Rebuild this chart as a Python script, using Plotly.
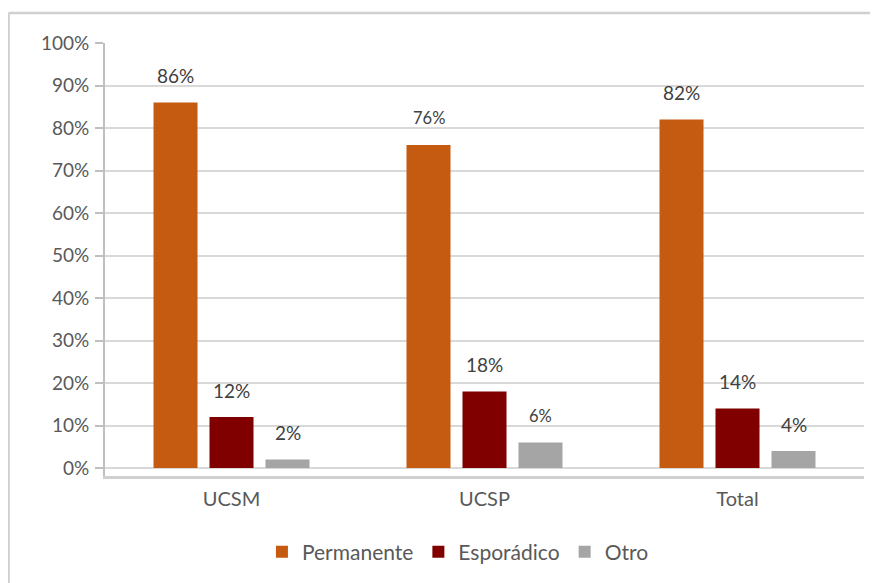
import plotly.graph_objects as go

categories = ["UCSM", "UCSP", "Total"]
series_names = ["Permanente", "Esporádico", "Otro"]
permanente = [0.86, 0.76, 0.82]
esporadico = [0.12, 0.18, 0.14]
otro = [0.02, 0.06, 0.04]
tick_vals = [0, 0.1, 0.2, 0.3, 0.4, 0.5, 0.6, 0.7, 0.8, 0.9, 1.0]
tick_text = ["0%", "10%", "20%", "30%", "40%", "50%", "60%", "70%", "80%", "90%", "100%"]

colors = ["#C55A11", "#800000", "#A5A5A5"]
all_series = [permanente, esporadico, otro]
# label font size per series/category (reference uses slightly smaller text on two labels)
label_sizes = [[19, 16.5, 19], [19, 19, 19], [19, 16.5, 19]]
xshifts = [-56, 0, 56]

FONT = "Lato, Open Sans, sans-serif"
TXT = "#595959"

fig = go.Figure()
for name, vals, col in zip(series_names, all_series, colors):
    fig.add_trace(go.Bar(x=categories, y=vals, name=name, marker_color=col,
                         marker_line_width=0))

annotations = []
for si, vals in enumerate(all_series):
    for ci, (cat, v) in enumerate(zip(categories, vals)):
        annotations.append(dict(
            x=cat, y=v, xref="x", yref="y", text=f"{round(v*100)}%",
            showarrow=False, xshift=xshifts[si], yshift=27,
            font=dict(family=FONT, size=label_sizes[si][ci], color="#404040")))

border = dict(color="#D0D0D0", width=2.5)
fig.update_layout(
    width=862, height=575,
    margin=dict(l=97, r=6, t=35, b=107, autoexpand=False),
    paper_bgcolor="white", plot_bgcolor="white",
    barmode="group", bargap=0.336, bargroupgap=0.214,
    font=dict(family=FONT, size=19, color=TXT),
    showlegend=True,
    legend=dict(orientation="h", x=0.465, y=-0.176, xanchor="center", yanchor="middle",
                font=dict(family=FONT, size=21, color=TXT),
                traceorder="normal"),
    annotations=annotations,
    shapes=[
        dict(type="line", xref="paper", yref="paper", x0=-0.127, y0=1.069, x1=1.5, y1=1.069,
             line=border, layer="below"),
        dict(type="line", xref="paper", yref="paper", x0=-0.127, y0=-0.5, x1=-0.127, y1=1.069,
             line=border, layer="below"),
    ],
)
fig.update_yaxes(range=[-0.0188, 1.0], tickvals=tick_vals, ticktext=tick_text,
                 showgrid=True, gridcolor="#D9D9D9", gridwidth=1.5,
                 showline=True, linecolor="#BFBFBF", linewidth=2,
                 ticks="outside", ticklen=8, tickcolor="#BFBFBF", tickwidth=2,
                 zeroline=False, tickfont=dict(size=19, color=TXT), ticklabelstandoff=2)
fig.update_xaxes(showline=True, linecolor="#D0D0D0", linewidth=2.5, ticks="",
                 tickfont=dict(size=20, color=TXT), showgrid=False, ticklabelstandoff=3)

fig.write_html("out.html")
